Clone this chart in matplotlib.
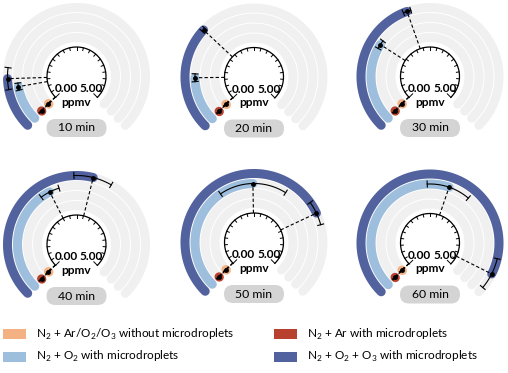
import numpy as np
import matplotlib
matplotlib.use('Agg')
import matplotlib.pyplot as plt
from matplotlib.patches import FancyBboxPatch, Rectangle

plt.rcParams['font.family'] = ['Lato', 'DejaVu Sans']
plt.rcParams['mathtext.fontset'] = 'custom'
plt.rcParams['mathtext.rm'] = 'Lato'

# values in ppmv (scale 0-5 over 270 deg)
times = ['10 min', '20 min', '30 min', '40 min', '50 min', '60 min']
no_drop = [0.02, 0.02, 0.02, 0.02, 0.02, 0.02]
no_drop_err = [0.01, 0.01, 0.01, 0.01, 0.01, 0.01]
ar_drop = [0.01, 0.01, 0.01, 0.01, 0.01, 0.01]
ar_drop_err = [0.01, 0.01, 0.01, 0.01, 0.01, 0.01]
o2_drop = [0.65, 0.82, 1.44, 2.00, 2.48, 2.85]
o2_drop_err = [0.065, 0.07, 0.08, 0.18, 0.62, 0.40]
o3_drop = [0.80, 1.63, 2.14, 2.76, 3.70, 4.66]
o3_drop_err = [0.17, 0.03, 0.06, 0.30, 0.19, 0.25]

labels = [r'N$_2$ + Ar/O$_2$/O$_3$ without microdroplets',
          r'N$_2$ + Ar with microdroplets',
          r'N$_2$ + O$_2$ with microdroplets',
          r'N$_2$ + O$_2$ + O$_3$ with microdroplets']
colors = ['#f4b183', '#b8402e', '#9dbfdd', '#52629e']

W, H = 508, 373
PX = 72 / 100  # points per pixel
fig = plt.figure(figsize=(W / 100, H / 100), dpi=100)

centers = [(76.5, 76.5), (254, 77), (430, 76.5),
           (76.5, 244.5), (254, 242.5), (430, 243)]
radii = [39, 49, 59, 69]
r_gauge = 29.5


def theta(v):
    return np.radians(225 + np.asarray(v) / 5 * 270)


for i, (cx, cy) in enumerate(centers):
    ax = fig.add_axes([(cx - 80) / W, 1 - (cy + 80) / H, 160 / W, 160 / H],
                      projection='polar')
    ax.set_theta_zero_location('N')
    ax.set_theta_direction(-1)
    ax.set_ylim(0, 80)
    ax.axis('off')

    full = np.linspace(0, 5, 300)
    for r in radii:
        ax.plot(theta(full), np.full(300, r), color='#f0f0f0', lw=9 * PX,
                solid_capstyle='round', clip_on=False)

    vals = [no_drop[i], ar_drop[i], o2_drop[i], o3_drop[i]]
    errs = [no_drop_err[i], ar_drop_err[i], o2_drop_err[i], o3_drop_err[i]]
    for v, e, r, c in zip(vals, errs, radii, colors):
        t = np.linspace(0, v, 100)
        ax.plot(theta(t), np.full(100, r), color=c, lw=9 * PX,
                solid_capstyle='round', clip_on=False)
    for v, e, r in zip(vals, errs, radii):
        th = theta(v)
        ax.plot([th, th], [r_gauge, r], color='k', lw=0.8, dashes=(3, 2),
                clip_on=False)
        eb = np.linspace(v - e, v + e, 60)
        ax.plot(theta(eb), np.full(60, r), color='k', lw=0.8, clip_on=False)
        for end in (v - e, v + e):
            ax.plot([theta(end)] * 2, [r - 3, r + 3], color='k', lw=0.8,
                    clip_on=False)
        ax.plot(th, r, 'o', color='k', ms=2.5, clip_on=False)

    # gauge
    ax.plot(theta(full), np.full(300, r_gauge), color='k', lw=0.9,
            clip_on=False)
    for tv in np.arange(0, 5.01, 0.25):
        inner = r_gauge - 5 if tv in (0, 5) else r_gauge - 2.8
        ax.plot([theta(tv)] * 2, [inner, r_gauge], color='k', lw=0.7,
                clip_on=False)

    def off(dx, dy):
        return 0.5 + dx / 160, 0.5 + dy / 160

    ax.text(*off(-10.5, -12.5), '0.00', transform=ax.transAxes, ha='center',
            va='center', fontsize=8.6, fontweight='bold')
    ax.text(*off(15, -12.5), '5.00', transform=ax.transAxes, ha='center',
            va='center', fontsize=8.6, fontweight='bold')
    ax.text(*off(0, -25.5), 'ppmv', transform=ax.transAxes, ha='center',
            va='center', fontsize=8.6, fontweight='bold')

    box = FancyBboxPatch((0.5 - 30 / 160, 0.5 - 60.5 / 160), 60 / 160, 18 / 160,
                         boxstyle='round,pad=0,rounding_size=%f' % (9 / 160),
                         transform=ax.transAxes, fc='#d4d4d4', ec='none',
                         clip_on=False)
    ax.add_patch(box)
    ax.text(*off(0, -51.5), times[i], transform=ax.transAxes, ha='center',
            va='center', fontsize=8.8)

# legend
leg_pos = [(3, 334), (274, 334), (3, 356.5), (274, 356.5)]
for (x, y), lab, c in zip(leg_pos, labels, colors):
    fig.add_artist(Rectangle((x / W, 1 - (y + 5) / H), 23 / W, 10 / H,
                             transform=fig.transFigure, fc=c, ec='none'))
    fig.text((x + 33) / W, 1 - y / H, lab, ha='left', va='center',
             fontsize=8.5)

fig.savefig('out.png', dpi=100)
